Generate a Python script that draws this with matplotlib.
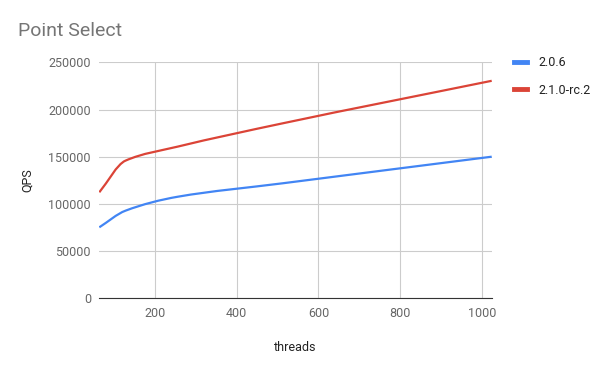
import numpy as np
import matplotlib
matplotlib.use("Agg")
import matplotlib.pyplot as plt
from matplotlib.path import Path
from matplotlib.patches import PathPatch
from matplotlib.lines import Line2D

plt.rcParams['font.family'] = ['Roboto', 'DejaVu Sans']

threads = [64, 128, 256, 512, 1024]
qps_206 = [75200, 92800, 107600, 121800, 150000]
qps_210 = [112300, 145800, 160700, 185300, 230400]
series_names = ['2.0.6', '2.1.0-rc.2']
colors = ['#4285F4', '#DB4437']


def smooth_path(xs, ys):
    # monotone cubic bezier through the points (Fritsch-Carlson tangents)
    xs = np.asarray(xs, float)
    ys = np.asarray(ys, float)
    d = np.diff(ys) / np.diff(xs)
    m = np.empty(len(xs))
    m[0], m[-1] = d[0], d[-1]
    for i in range(1, len(xs) - 1):
        m[i] = 2 / (1 / d[i - 1] + 1 / d[i]) if d[i - 1] * d[i] > 0 else 0
    verts = [(xs[0], ys[0])]
    codes = [Path.MOVETO]
    for i in range(len(xs) - 1):
        h = (xs[i + 1] - xs[i]) / 3
        verts += [(xs[i] + h, ys[i] + m[i] * h),
                  (xs[i + 1] - h, ys[i + 1] - m[i + 1] * h),
                  (xs[i + 1], ys[i + 1])]
        codes += [Path.CURVE4] * 3
    return Path(verts, codes)


fig = plt.figure(figsize=(6, 3.71), dpi=100)
ax = fig.add_axes([99.3 / 600, 1 - 298.3 / 371, (491.7 - 99.3) / 600, (298.3 - 62.3) / 371])

for ys, c in zip([qps_206, qps_210], colors):
    ax.add_patch(PathPatch(smooth_path(threads, ys), facecolor='none', edgecolor=c, lw=1.6, zorder=3))

ax.set_xlim(threads[0], threads[-1])
ax.set_ylim(0, 250000)
ax.set_xticks([200, 400, 600, 800, 1000])
ax.set_yticks(np.arange(0, 250001, 50000))
ax.grid(color='#cccccc', lw=0.8)
ax.set_axisbelow(True)
for s in ['top', 'right', 'left']:
    ax.spines[s].set_visible(False)
ax.spines['bottom'].set_color('#333333')
ax.tick_params(length=0, labelsize=9, colors='#666666', pad=6)

ax.set_xlabel('threads', fontsize=9, color='#222222', labelpad=15.5)
ax.set_ylabel('QPS', fontsize=9, color='#222222', labelpad=10.5)

fig.text(18 / 600, 1 - 31 / 371, 'Point Select', fontsize=14, color='#757575', va='center')

handles = [Line2D([], [], color=c, lw=3.5) for c in colors]
fig.legend(handles, series_names, loc='upper left', bbox_to_anchor=(503 / 600, 1 - 45 / 371),
           frameon=False, fontsize=9, handlelength=1.0, handletextpad=0.9,
           labelspacing=1.15, labelcolor='#222222')

fig.savefig('out.png', dpi=100)
